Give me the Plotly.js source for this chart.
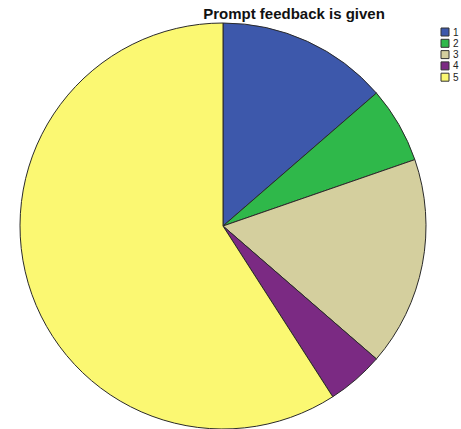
<!DOCTYPE html>
<html>
<head>
<meta charset="utf-8">
<script src="https://cdn.plot.ly/plotly-3.0.1.min.js"></script>
<style>html,body{margin:0;padding:0;background:#fff;}#chart{width:461px;height:429px;}</style>
</head>
<body>
<div id="chart"></div>
<script>
const categories = ["1", "2", "3", "4", "5"];
const counts = [9, 4, 11, 3, 39];
const colors = ["#3d58ab", "#2fb84a", "#d4cf9e", "#7b2a83", "#fbf872"];
const titleText = "Prompt feedback is given";

const W = 461, H = 429;
const trace = {
  type: "pie",
  labels: categories,
  values: counts,
  sort: false,
  direction: "clockwise",
  rotation: 0,
  textinfo: "none",
  hoverinfo: "label+value",
  marker: { colors: colors, line: { color: "#2a2a2a", width: 1 } },
  domain: { x: [20 / W, 426 / W], y: [0, 406 / H] },
  showlegend: false
};

const shapes = [], annotations = [];
categories.forEach((c, i) => {
  const yc = 32 + i * 11.3;
  shapes.push({
    type: "rect", xref: "paper", yref: "paper",
    x0: 441 / W, x1: 449 / W, y0: 1 - (yc - 4) / H, y1: 1 - (yc + 4) / H,
    fillcolor: colors[i], line: { color: "#333", width: 1 }
  });
  annotations.push({
    xref: "paper", yref: "paper", x: 451 / W, y: 1 - yc / H,
    xanchor: "left", yanchor: "middle", text: c, showarrow: false,
    font: { family: "Arial, Liberation Sans, sans-serif", size: 10, color: "#222" }
  });
});

const layout = {
  width: W, height: H,
  margin: { l: 0, r: 0, t: 0, b: 0 },
  paper_bgcolor: "#ffffff",
  title: {
    text: "<b>" + titleText + "</b>",
    x: 294 / W, xanchor: "center", xref: "paper",
    y: 1 - 14 / H, yanchor: "middle", yref: "paper",
    font: { family: "Arial, Liberation Sans, sans-serif", size: 15, color: "#111" }
  },
  shapes: shapes,
  annotations: annotations
};

Plotly.newPlot("chart", [trace], layout, { displayModeBar: false, staticPlot: true });
</script>
</body>
</html>
